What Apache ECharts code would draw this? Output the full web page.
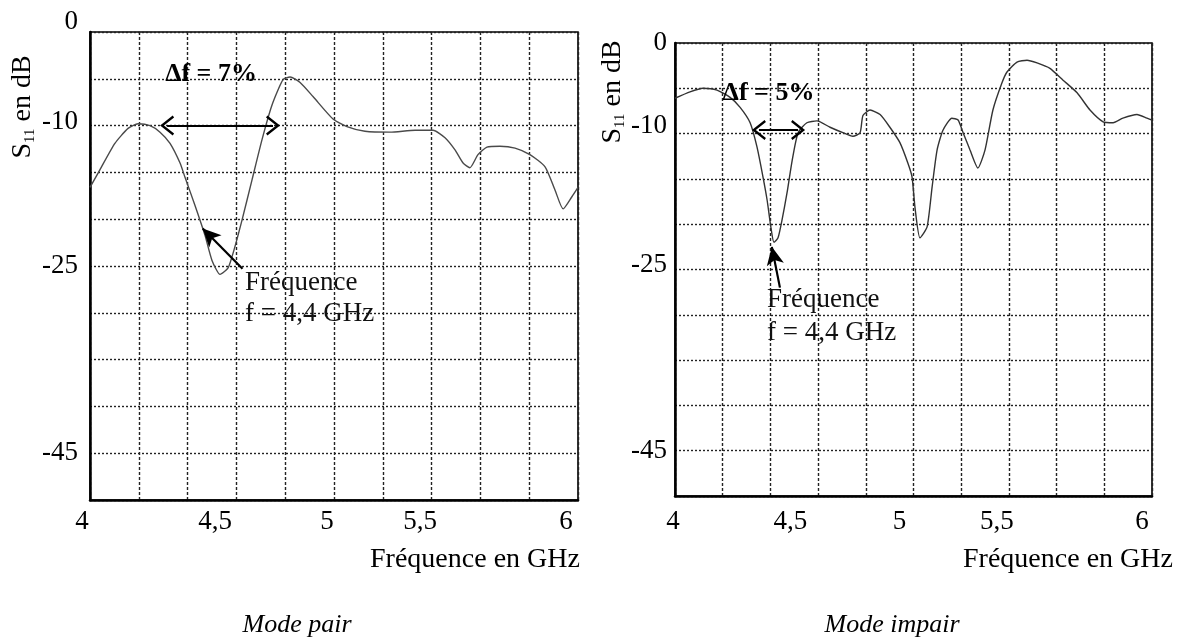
<!DOCTYPE html>
<html>
<head>
<meta charset="utf-8">
<script src="https://cdn.jsdelivr.net/npm/echarts@6/dist/echarts.min.js"></script>
<style>
  html, body { margin: 0; padding: 0; background: #fff; }
  #chart { width: 1185px; height: 642px; }
</style>
</head>
<body>
<div id="chart"></div>
<script>
// Mode pair : S11 (dB) en fonction de la fréquence (GHz)
const freqPair = [4.000, 4.041, 4.102, 4.156, 4.197, 4.246, 4.287, 4.328, 4.369, 4.389, 4.430, 4.471, 4.500, 4.533, 4.566, 4.590, 4.623, 4.664, 4.705, 4.746, 4.791, 4.820, 4.861, 4.914, 4.996, 5.053, 5.127, 5.230, 5.332, 5.406, 5.455, 5.496, 5.529, 5.557, 5.590, 5.627, 5.680, 5.742, 5.803, 5.865, 5.906, 5.939, 5.975, 6.000];
const s11Pair = [-16.6, -14.7, -11.9, -10.3, -9.8, -10.0, -10.7, -11.9, -14.0, -15.5, -18.5, -21.7, -24.4, -25.9, -25.2, -23.3, -20.1, -15.8, -11.5, -7.8, -5.1, -4.8, -5.4, -6.9, -9.3, -10.1, -10.6, -10.7, -10.5, -10.5, -11.3, -12.6, -14.0, -14.5, -13.1, -12.3, -12.2, -12.4, -13.1, -14.4, -16.9, -18.9, -17.6, -16.6];

// Mode impair
const freqImpair = [4.000, 4.063, 4.117, 4.176, 4.231, 4.273, 4.315, 4.344, 4.369, 4.386, 4.403, 4.415, 4.432, 4.449, 4.470, 4.491, 4.516, 4.553, 4.595, 4.650, 4.704, 4.746, 4.776, 4.788, 4.818, 4.860, 4.901, 4.943, 4.977, 4.994, 5.006, 5.027, 5.057, 5.078, 5.099, 5.124, 5.161, 5.187, 5.208, 5.237, 5.270, 5.300, 5.333, 5.371, 5.392, 5.434, 5.476, 5.518, 5.572, 5.627, 5.686, 5.740, 5.795, 5.837, 5.878, 5.937, 5.979, 6.000];
const s11Impair = [-6.1, -5.4, -5.0, -5.2, -6.0, -7.1, -8.8, -11.5, -14.8, -17.3, -20.5, -22.0, -21.5, -19.5, -16.5, -13.0, -9.9, -8.8, -8.6, -9.3, -9.9, -10.3, -9.9, -8.0, -7.4, -7.9, -9.3, -11.0, -13.3, -14.8, -18.1, -21.5, -20.3, -15.9, -11.8, -9.6, -8.3, -8.5, -9.9, -11.8, -13.8, -11.8, -7.4, -4.4, -3.2, -2.1, -1.9, -2.2, -2.8, -4.1, -5.5, -7.4, -8.7, -8.8, -8.3, -7.9, -8.3, -8.5];

// Graduations
const yTickValues = [0, -10, -25, -45];
const xTickValues = [4, 4.5, 5, 5.5, 6];

// Annotations (bande à -10 dB et fréquence de résonance)
const bandPair = { from: [4.316, -10], to: [4.750, -10], text: 'Δf = 7%' };
const bandImpair = { from: [4.352, -9.6], to: [4.516, -9.6], text: 'Δf = 5%' };
const resonance = 'Fréquence\nf = 4,4 GHz';
const arrowPair = { tail: [4.625, -25.3], tip: [4.462, -21.0] };
const arrowImpair = { tail: [4.440, -27.0], tip: [4.406, -22.5] };
const notePair = [4.635, -28.5];
const noteImpair = [4.386, -30.2];

const SERIF = '"Liberation Serif", "Times New Roman", serif';
const chevron = 'path://M50,0L100,72L90,80L50,22L10,80L0,72Z';

// label nudges (px), style only
const xShiftPair = { '4': -8, '4.5': 3, '5': -7, '5.5': -36, '6': -12 };
const xShiftImpair = { '4': -2, '4.5': -4, '5': -14, '5.5': -36, '6': -10 };
const yRaisePair = { '0': 10, '-10': 4 };
const yRaiseImpair = { '-10': 8, '-25': 5 };

const zip = (xs, ys) => xs.map((x, i) => [x, ys[i]]);
const fmtNum = v => String(v).replace('.', ',');

function xLabelAxis(gridIndex, shifts, margin) {
  const rich = {};
  const keyOf = {};
  xTickValues.forEach((v, i) => {
    const s = shifts[String(v)] || 0;
    const k = 'x' + i;
    keyOf[String(v)] = k;
    rich[k] = {
      fontFamily: SERIF, fontSize: 27, color: '#000',
      padding: [0, s < 0 ? -2 * s : 0, 0, s > 0 ? 2 * s : 0]
    };
  });
  return {
    type: 'value', gridIndex, position: 'bottom', min: 4, max: 6, interval: 0.5,
    axisLine: { show: false, onZero: false }, axisTick: { show: false }, splitLine: { show: false },
    axisLabel: {
      show: true, margin,
      fontFamily: SERIF, fontSize: 27, color: '#000',
      formatter: v => {
        const k = keyOf[String(v)];
        return k ? '{' + k + '|' + fmtNum(v) + '}' : '';
      },
      rich
    }
  };
}

function gridAxisX(gridIndex) {
  return {
    type: 'value', gridIndex, position: 'bottom', min: 4, max: 6, interval: 0.2,
    axisLine: { show: true, onZero: false, lineStyle: { color: '#000', width: 2.5 } },
    axisTick: { show: false }, axisLabel: { show: false },
    splitLine: { show: true, lineStyle: { color: '#222', width: 1.4, type: [3, 2] } }
  };
}

function yAxisFor(gridIndex, raise, margin) {
  const rich = {};
  const keyOf = {};
  yTickValues.forEach((v, i) => {
    const r = raise[String(v)] || 0;
    const k = 'y' + i;
    keyOf[String(v)] = k;
    rich[k] = {
      fontFamily: SERIF, fontSize: 27, color: '#000',
      padding: [0, 0, 2 * r, 0]
    };
  });
  return {
    type: 'value', gridIndex, min: -50, max: 0, interval: 5,
    axisLine: { show: true, onZero: false, lineStyle: { color: '#000', width: 2.5 } },
    axisTick: { show: false },
    axisLabel: {
      show: true, margin,
      fontFamily: SERIF, fontSize: 27, color: '#000',
      formatter: v => {
        const k = keyOf[String(v)];
        return k ? '{' + k + '|' + v + '}' : '';
      },
      rich
    },
    splitLine: { show: true, lineStyle: { color: '#222', width: 1.4, type: [2, 2] } }
  };
}

function markLinesFor(band, arrow, labelGap, labelShift) {
  return {
    silent: true,
    animation: false,
    data: [
      [
        { coord: band.from, symbol: chevron, symbolSize: [20, 14],
          lineStyle: { color: '#000', width: 2.2, type: 'solid' },
          label: { show: true, position: 'insideMiddleTop', distance: labelGap, offset: [labelShift, 0],
                   formatter: band.text, fontFamily: SERIF, fontSize: 26, fontWeight: 'bold', color: '#000' } },
        { coord: band.to, symbol: chevron, symbolSize: [20, 14] }
      ],
      [
        { coord: arrow.tail, symbol: 'none',
          lineStyle: { color: '#000', width: 2.2, type: 'solid' },
          label: { show: false } },
        { coord: arrow.tip, symbol: 'arrow', symbolSize: [13, 18] }
      ]
    ]
  };
}

function notePoint(coord, lineHeight) {
  return {
    silent: true,
    animation: false,
    symbol: 'circle', symbolSize: 0,
    data: [{ coord, value: 0 }],
    label: {
      show: true, position: [0, 0], align: 'left', verticalAlign: 'middle',
      formatter: resonance, fontFamily: SERIF, fontSize: 27, lineHeight, color: '#111'
    }
  };
}

function yTitle(x, y) {
  return {
    type: 'text', x, y, rotation: Math.PI / 2, silent: true,
    style: {
      text: '{m|S}{s|11}{m| en dB}',
      align: 'center', verticalAlign: 'middle',
      rich: {
        m: { fontFamily: SERIF, fontSize: 28, lineHeight: 30, fill: '#000', verticalAlign: 'middle' },
        s: { fontFamily: SERIF, fontSize: 15, lineHeight: 15, fill: '#000', verticalAlign: 'bottom' }
      }
    }
  };
}

function plainText(text, x, y, size, italic) {
  return {
    type: 'text', x, y, silent: true,
    style: {
      text, align: 'center', verticalAlign: 'middle',
      font: (italic ? 'italic ' : '') + size + 'px ' + SERIF, fill: '#000'
    }
  };
}

const chart = echarts.init(document.getElementById('chart'), null, { renderer: 'canvas' });

chart.setOption({
  backgroundColor: '#fff',
  animation: false,
  grid: [
    { left: 90, top: 32, width: 488, height: 468, show: true, borderColor: '#000', borderWidth: 1.6, backgroundColor: 'transparent' },
    { left: 675, top: 43, width: 477, height: 453, show: true, borderColor: '#000', borderWidth: 1.6, backgroundColor: 'transparent' }
  ],
  xAxis: [
    gridAxisX(0),
    xLabelAxis(0, xShiftPair, 8),
    gridAxisX(1),
    xLabelAxis(1, xShiftImpair, 12)
  ],
  yAxis: [
    yAxisFor(0, yRaisePair, 12),
    yAxisFor(1, yRaiseImpair, 8)
  ],
  series: [
    {
      name: 'Mode pair', type: 'line', xAxisIndex: 0, yAxisIndex: 0,
      data: zip(freqPair, s11Pair), showSymbol: false, smooth: 0.2,
      lineStyle: { color: '#4a4a4a', width: 1.4 },
      markLine: markLinesFor(bandPair, arrowPair, 38, -9),
      markPoint: notePoint(notePair, 31)
    },
    {
      name: 'Mode impair', type: 'line', xAxisIndex: 2, yAxisIndex: 1,
      data: zip(freqImpair, s11Impair), showSymbol: false, smooth: 0.2,
      lineStyle: { color: '#333', width: 1.4 },
      markLine: markLinesFor(bandImpair, arrowImpair, 24, -10),
      markPoint: notePoint(noteImpair, 33)
    }
  ],
  graphic: [
    yTitle(23, 107),
    yTitle(613, 92),
    plainText('Fréquence en GHz', 475, 560, 28, false),
    plainText('Fréquence en GHz', 1068, 560, 28, false),
    plainText('Mode pair', 297, 625, 26, true),
    plainText('Mode impair', 892, 625, 26, true)
  ]
});
</script>
</body>
</html>
